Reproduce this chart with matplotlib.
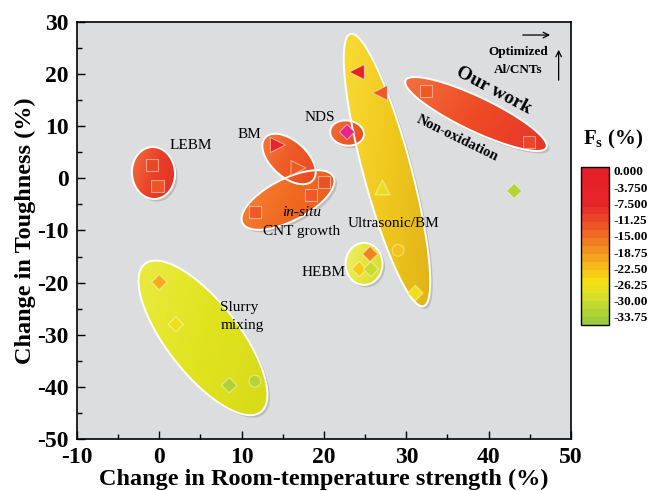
import numpy as np
import matplotlib.pyplot as plt
from matplotlib.patches import Polygon
from matplotlib.colors import LinearSegmentedColormap, Normalize
from matplotlib.cm import ScalarMappable
from matplotlib.ticker import MultipleLocator

plt.rcParams['font.family'] = ['Liberation Serif', 'DejaVu Serif']
plt.rcParams['mathtext.fontset'] = 'custom'
plt.rcParams['mathtext.rm'] = 'Liberation Serif:bold'
plt.rcParams['axes.unicode_minus'] = False

# points: strength change, toughness change, Fs value, marker
strength = [-0.9, -0.2, 14.4, 16.9, 11.6, 18.4, 20.0, 22.8, 24.0, 26.8, 27.1, 29.0, 31.1,
            25.6, 24.3, 25.7, 0.0, 2.0, 8.5, 11.6, 32.4, 44.9, 43.1]
toughness = [2.6, -1.5, 6.4, 2.0, -6.5, -3.2, -0.7, 8.9, 20.4, 16.4, -1.7, -13.8, -22.0,
             -14.5, -17.4, -17.4, -19.9, -28.0, -39.7, -38.9, 16.8, 7.0, -2.4]
fs = [-11, -12.5, -5, -13, -13, -13, -12, 3, -2, -13, -28, -23, -27,
      -17, -24, -31, -21, -27, -34, -33, -13, -11, -33]
shapes = ['s', 's', '>', '>', 's', 's', 's', 'D', '<', '<', '^', 'o', 'D',
          'D', 'D', 'D', 'D', 'D', 'D', 'o', 's', 's', 'D']

# colour bar of Fs
fs_ticks = [0.0, -3.75, -7.5, -11.25, -15.0, -18.75, -22.5, -26.25, -30.0, -33.75]
fs_tick_labels = ['0.000', '-3.750', '-7.500', '-11.25', '-15.00', '-18.75',
                  '-22.50', '-26.25', '-30.00', '-33.75']
fs_min, fs_max = -35.6, 0.92
fs_stops = [-35.6, -30.0, -26.25, -22.5, -18.75, -15.0, -11.25, -7.5, 0.92]
fs_colors = ['#9ecb3c', '#d4df2c', '#f4e014', '#f6bd18', '#f39620', '#ef6e22',
             '#ea4a27', '#e6262a', '#e51f26']

# grouping ellipses (centre in data units, semi-axes in pixels, angle in degrees)
group_x = [27.65, 38.46, 5.3, -0.71, 15.63, 15.75, 22.8, 24.86]
group_y = [1.6, 12.35, -30.6, 1.03, -4.15, 3.72, 8.7, -16.4]
group_a = [141, 78, 94, 26, 51, 32, 17, 21]
group_b = [24, 17, 36, 21.5, 21, 18, 12.5, 18.5]
group_ang = [-75, -25.5, -52, 95, 27, -42, -8, 90]
group_cols = [['#f7dc34', '#f1c81e', '#e0b418'],
              ['#f3703c', '#ee4a26', '#e6362a'],
              ['#eaea40', '#e0e41e', '#d8da18'],
              ['#f3703a', '#e9402a', '#e33024'],
              ['#f6883a', '#f06a22', '#ea5a1e'],
              ['#f37a3a', '#ef5a26', '#e84a24'],
              ['#f3703a', '#ec5a2a', '#e64a26'],
              ['#f0f070', '#e4e63a', '#d8dc2c']]

labels = ['LEBM', 'BM', 'NDS', 'Ultrasonic/BM', 'HEBM', 'CNT growth']
label_x = [3.8, 10.9, 19.5, 28.5, 19.9, 17.3]
label_y = [6.3, 8.4, 11.7, -8.75, -18.1, -10.1]

fig = plt.figure(figsize=(6.53, 4.91), dpi=100)
ax = fig.add_axes([77 / 653, 52 / 491, 494 / 653, 417 / 491])
ax.set_facecolor('#dcdddf')
ax.set_xlim(-10, 50)
ax.set_ylim(-50, 30)
sx = 494 / 60
sy = 417 / 80

t = np.linspace(0, 2 * np.pi, 240)
for cx, cy, a, b, ang, cols in zip(group_x, group_y, group_a, group_b, group_ang, group_cols):
    th = np.deg2rad(ang)
    ex = a * np.cos(t)
    ey = b * np.sin(t)
    px = cx + (ex * np.cos(th) - ey * np.sin(th)) / sx
    py = cy + (ex * np.sin(th) + ey * np.cos(th)) / sy
    shadow = Polygon(np.column_stack([px + 2.5 / sx, py - 2.5 / sy]), closed=True,
                     facecolor='black', alpha=0.15, lw=0, zorder=2)
    ax.add_patch(shadow)
    shape = Polygon(np.column_stack([px, py]), closed=True, facecolor='none',
                    edgecolor='white', lw=1.4, zorder=2.2)
    ax.add_patch(shape)
    gx = np.linspace(0, 1, 64)
    gy = np.linspace(0, 1, 64)
    GX, GY = np.meshgrid(gx, gy)
    grad = 0.75 * GX + 0.25 * GY
    cm_e = LinearSegmentedColormap.from_list('e', cols)
    im = ax.imshow(grad, extent=(px.min(), px.max(), py.min(), py.max()), origin='upper',
                   cmap=cm_e, aspect='auto', zorder=2.1, interpolation='bilinear')
    im.set_clip_path(shape)

ax.set_xlim(-10, 50)
ax.set_ylim(-50, 30)

pos = [(v - fs_min) / (fs_max - fs_min) for v in fs_stops]
fs_cmap = LinearSegmentedColormap.from_list('fs', list(zip(pos, fs_colors)))
fs_cmap.set_over('#e3258e')
norm = Normalize(fs_min, fs_max)

sizes = {'s': 80, '>': 115, '<': 115, '^': 115, 'D': 60, 'o': 72}
strength = np.array(strength)
toughness = np.array(toughness)
fs = np.array(fs)
shapes = np.array(shapes)
for m in sizes:
    sel = shapes == m
    ax.scatter(strength[sel], toughness[sel], c=fs[sel], cmap=fs_cmap, norm=norm,
               marker=m, s=sizes[m], edgecolors=(1, 1, 1, 0.45), linewidths=0.8, zorder=4)

for txt, x, y in zip(labels, label_x, label_y):
    ax.text(x, y, txt, fontsize=11, ha='center', va='center', zorder=5)
ax.text(17.3, -6.5, 'in-situ', fontsize=11, style='italic', ha='center', va='center', zorder=5)
ax.text(7.4, -24.8, 'Slurry', fontsize=11, ha='left', va='center', zorder=5)
ax.text(7.4, -28.2, 'mixing', fontsize=11, ha='left', va='center', zorder=5)
ax.text(40.65, 16.9, 'Our work', fontsize=14, fontweight='bold', rotation=-28,
        ha='center', va='center', rotation_mode='anchor', zorder=5)
ax.text(36.15, 7.75, 'Non-oxidation', fontsize=10.5, fontweight='bold', rotation=-26,
        ha='center', va='center', rotation_mode='anchor', zorder=5)
ax.text(43.6, 24.15, 'Optimized', fontsize=9.5, fontweight='bold', ha='center', va='center')
ax.text(43.6, 20.7, 'Al/CNTs', fontsize=9.5, fontweight='bold', ha='center', va='center')
ax.annotate('', xy=(47.8, 27.5), xytext=(43.8, 27.5),
            arrowprops=dict(arrowstyle='->', lw=0.9, color='black'))
ax.annotate('', xy=(48.5, 25.2), xytext=(48.5, 18.3),
            arrowprops=dict(arrowstyle='->', lw=0.9, color='black'))

ax.set_xticks(range(-10, 51, 10))
ax.set_yticks(range(-50, 31, 10))
ax.xaxis.set_minor_locator(MultipleLocator(5))
ax.yaxis.set_minor_locator(MultipleLocator(5))
ax.tick_params(which='both', direction='in', top=False, right=False, width=1)
ax.tick_params(which='major', length=6, pad=6, labelsize=17)
ax.tick_params(which='minor', length=3.5)
for lab in ax.get_xticklabels() + ax.get_yticklabels():
    lab.set_fontweight('bold')
for sp in ax.spines.values():
    sp.set_linewidth(1.2)
ax.set_xlabel('Change in Room-temperature strength (%)', fontsize=17.5,
              fontweight='bold', labelpad=0)
ax.set_ylabel('Change in Toughness (%)', fontsize=17.5, fontweight='bold', labelpad=1)

cax = fig.add_axes([581 / 653, 1 - 325 / 491, 28 / 653, 158 / 491])
sm = ScalarMappable(norm=norm, cmap=fs_cmap.resampled(20))
cb = fig.colorbar(sm, cax=cax, ticks=fs_ticks)
cb.ax.set_yticklabels(fs_tick_labels)
cb.ax.tick_params(length=0, pad=3, labelsize=9.5)
for lab in cb.ax.get_yticklabels():
    lab.set_fontweight('bold')
cb.outline.set_linewidth(1)
fig.text(613 / 653, 1 - 139 / 491, r'F$_\mathrm{s}$ (%)', fontsize=15,
         fontweight='bold', ha='center', va='center')

fig.savefig('out.png', dpi=100)
